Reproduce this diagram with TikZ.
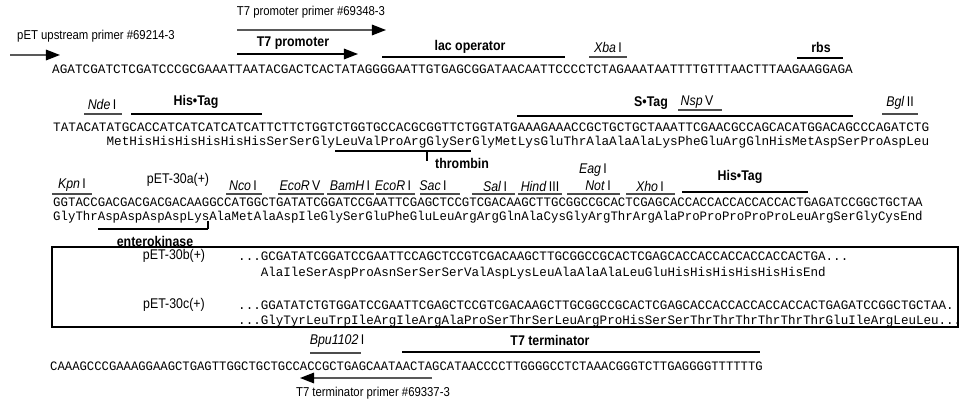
\documentclass[tikz,border=0pt]{standalone}
\usepackage{fontspec}
\setmainfont{Liberation Sans}[FakeStretch=0.88]
\setmonofont{Liberation Mono}
\usepackage{graphicx}
\usetikzlibrary{arrows.meta,positioning}
\newcommand{\enz}[2]{\textit{#1}\,#2}
\newcommand{\dna}[2]{\scalebox{#1}[1]{#2}}

\begin{document}
\begin{tikzpicture}[
  x=0.03cm, y=-0.03cm,
  lbl/.style={font=\fontsize{11}{13}\selectfont, inner sep=0pt},
  feat/.style={font=\bfseries\fontsize{12}{14}\selectfont, inner sep=0pt},
  site/.style={font=\fontsize{12}{14}\selectfont, inner sep=0pt},
  seqtxt/.style={font=\ttfamily\fontsize{11}{13}\selectfont, inner sep=0pt, anchor=base west},
  bar/.style={line width=1.7pt},
  uline/.style={line width=1.2pt, black!70},
  primer/.style={line width=1.3pt, black!65, -{Triangle[length=12pt,width=9pt,color=black]}},
]
\useasboundingbox (0,0) rectangle (961,401);

% primers, promoter, operator
\node[lbl] (t7pp) at (311,12) {T7 promoter primer \#69348-3};
\coordinate (t7ppA) at (237,30); \coordinate (t7ppB) at (386,30);
\draw[primer] (t7ppA) -- (t7ppB);
\node[lbl] (uppr) at (96,36) {pET upstream primer \#69214-3};
\coordinate (upprA) at (10,55); \coordinate (upprB) at (60,55);
\draw[primer] (upprA) -- (upprB);
\node[feat] (t7p) at (293,43) {T7 promoter};
\coordinate (t7pA) at (237,54); \coordinate (t7pB) at (358,54);
\draw[primer, black] (t7pA) -- (t7pB);
\node[feat] (lac) at (470,47) {lac operator};
\coordinate (lacA) at (382,57); \coordinate (lacB) at (565,57);
\draw[bar] (lacA) -- (lacB);
\node[site] (xba) at (608,47) {\enz{Xba}{I}};
\coordinate (xbaA) at (589,57); \coordinate (xbaB) at (627,57);
\draw[uline] (xbaA) -- (xbaB);
\node[feat] (rbs) at (821,47) {rbs};
\coordinate (rbsA) at (797,58); \coordinate (rbsB) at (843,58);
\draw[bar] (rbsA) -- (rbsB);
\node[seqtxt] (row1) at (52,74) {\dna{0.986}{AGATCGATCTCGATCCCGCGAAATTAATACGACTCACTATAGGGGAATTGTGAGCGGATAACAATTCCCCTCTAGAAATAATTTTGTTTAACTTTAAGAAGGAGA}};

% row 2
\node[site] (nde) at (102,104) {\enz{Nde}{I}};
\coordinate (ndeA) at (84,114); \coordinate (ndeB) at (122,114);
\draw[uline] (ndeA) -- (ndeB);
\node[feat] (his1) at (196,102) {His•Tag};
\coordinate (his1A) at (131,114); \coordinate (his1B) at (262,114);
\draw[bar] (his1A) -- (his1B);
\node[feat] (stag) at (651,103) {S•Tag};
\coordinate (stagA) at (517,116); \coordinate (stagB) at (853,116);
\draw[bar] (stagA) -- (stagB);
\node[site] (nsp) at (697,102) {\enz{Nsp}{V}};
\coordinate (nspA) at (678,110); \coordinate (nspB) at (722,110);
\draw[uline] (nspA) -- (nspB);
\node[site] (bgl) at (900,103) {\enz{Bgl}{II}};
\coordinate (bglA) at (882,114); \coordinate (bglB) at (918,114);
\draw[uline] (bglA) -- (bglB);
\node[seqtxt] (row2) at (53,132) {\dna{0.985}{TATACATATGCACCATCATCATCATCATTCTTCTGGTCTGGTGCCACGCGGTTCTGGTATGAAAGAAACCGCTGCTGCTAAATTCGAACGCCAGCACATGGACAGCCCAGATCTG}};
\node[seqtxt] (aa2) at (53,146) {\dna{0.985}{\hphantom{TATACAT}MetHisHisHisHisHisHisSerSerGlyLeuValProArgGlySerGlyMetLysGluThrAlaAlaAlaLysPheGluArgGlnHisMetAspSerProAspLeu}};
\coordinate (thrA) at (335,151); \coordinate (thrB) at (471,151);
\coordinate (thrC) at (427,151); \coordinate (thrD) at (427,161);
\draw[bar] (thrA) -- (thrB);
\draw[line width=1.2pt] (thrC) -- (thrD);
\node[feat] (thr) at (462,163) {thrombin};

% row 3
\node[site] (kpn) at (72,185) {\enz{Kpn}{I}};
\coordinate (kpnA) at (52,194); \coordinate (kpnB) at (92,194);
\draw[uline] (kpnA) -- (kpnB);
\node[lbl, font=\fontsize{12}{14}\selectfont] (p30a) at (178,180) {pET-30a(+)};
\node[site] (nco) at (243,186) {\enz{Nco}{I}};
\coordinate (ncoA) at (226,194); \coordinate (ncoB) at (262,194);
\draw[uline] (ncoA) -- (ncoB);
\node[site] (ecov) at (300,186) {\enz{EcoR}{V}};
\coordinate (ecovA) at (278,194); \coordinate (ecovB) at (324,194);
\draw[uline] (ecovA) -- (ecovB);
\node[site] (bam) at (350,186) {\enz{BamH}{I}};
\coordinate (bamA) at (327,194); \coordinate (bamB) at (374,194);
\draw[uline] (bamA) -- (bamB);
\node[site] (ecoi) at (393,186) {\enz{EcoR}{I}};
\coordinate (ecoiA) at (376,194); \coordinate (ecoiB) at (415,194);
\draw[uline] (ecoiA) -- (ecoiB);
\node[site] (sac) at (433,186) {\enz{Sac}{I}};
\coordinate (sacA) at (420,194); \coordinate (sacB) at (460,194);
\draw[uline] (sacA) -- (sacB);
\node[site] (sal) at (495,186) {\enz{Sal}{I}};
\coordinate (salA) at (472,194); \coordinate (salB) at (515,194);
\draw[uline] (salA) -- (salB);
\node[site] (hind) at (540,186) {\enz{Hind}{III}};
\coordinate (hindA) at (518,194); \coordinate (hindB) at (562,194);
\draw[uline] (hindA) -- (hindB);
\node[site] (eag) at (593,170) {\enz{Eag}{I}};
\node[site] (not) at (598,186) {\enz{Not}{I}};
\coordinate (notA) at (567,194); \coordinate (notB) at (620,194);
\draw[uline] (notA) -- (notB);
\node[site] (xho) at (650,186) {\enz{Xho}{I}};
\coordinate (xhoA) at (626,194); \coordinate (xhoB) at (675,194);
\draw[uline] (xhoA) -- (xhoB);
\node[feat] (his2) at (740,177) {His•Tag};
\coordinate (his2A) at (682,192); \coordinate (his2B) at (808,192);
\draw[bar] (his2A) -- (his2B);
\node[seqtxt] (row3) at (53,207) {\dna{0.961}{GGTACCGACGACGACGACAAGGCCATGGCTGATATCGGATCCGAATTCGAGCTCCGTCGACAAGCTTGCGGCCGCACTCGAGCACCACCACCACCACCACTGAGATCCGGCTGCTAA}};
\node[seqtxt] (aa3) at (53,221) {\dna{0.961}{GlyThrAspAspAspAspLysAlaMetAlaAspIleGlySerGluPheGluLeuArgArgGlnAlaCysGlyArgThrArgAlaProProProProProLeuArgSerGlyCysEnd}};
\coordinate (entA) at (98,229); \coordinate (entB) at (208,229);
\coordinate (entC) at (208,221);
\draw[bar] (entA) -- (entB);
\draw[line width=1.2pt] (entB) -- (entC);
\node[feat] (ent) at (155,241) {enterokinase};

% pET-30b(+) and pET-30c(+)
\draw[line width=1pt] (52,247) rectangle (958,327);
\node[lbl, font=\fontsize{12}{14}\selectfont] (p30b) at (174,256) {pET-30b(+)};
\node[seqtxt] (rowb) at (238,260) {\dna{0.974}{...GCGATATCGGATCCGAATTCCAGCTCCGTCGACAAGCTTGCGGCCGCACTCGAGCACCACCACCACCACCACTGA...}};
\node[seqtxt] (aab) at (238,276) {\dna{0.974}{\hphantom{...}AlaIleSerAspProAsnSerSerSerValAspLysLeuAlaAlaAlaLeuGluHisHisHisHisHisHisEnd}};
\node[lbl, font=\fontsize{12}{14}\selectfont] (p30c) at (174,305) {pET-30c(+)};
\node[seqtxt] (rowc) at (238,309) {\dna{0.974}{...GGATATCTGTGGATCCGAATTCGAGCTCCGTCGACAAGCTTGCGGCCGCACTCGAGCACCACCACCACCACCACTGAGATCCGGCTGCTAA.}};
\node[seqtxt] (aac) at (238,324) {\dna{0.974}{...GlyTyrLeuTrpIleArgIleArgAlaProSerThrSerLeuArgProHisSerSerThrThrThrThrThrThrGluIleArgLeuLeu...}};

% row 4
\node[site] (bpu) at (337,341) {\textit{Bpu1102}\,I};
\coordinate (bpuA) at (310,353); \coordinate (bpuB) at (361,353);
\draw[uline] (bpuA) -- (bpuB);
\node[feat] (t7t) at (550,340) {T7 terminator};
\coordinate (t7tA) at (402,352); \coordinate (t7tB) at (760,352);
\draw[bar] (t7tA) -- (t7tB);
\node[seqtxt] (row4) at (50,370) {\dna{0.950}{CAAAGCCCGAAAGGAAGCTGAGTTGGCTGCTGCCACCGCTGAGCAATAACTAGCATAACCCCTTGGGGCCTCTAAACGGGTCTTGAGGGGTTTTTTG}};
\coordinate (t7tpA) at (432,378); \coordinate (t7tpB) at (300,378);
\draw[primer] (t7tpA) -- (t7tpB);
\node[lbl] (t7tp) at (373,393) {T7 terminator primer \#69337-3};
\end{tikzpicture}
\end{document}
